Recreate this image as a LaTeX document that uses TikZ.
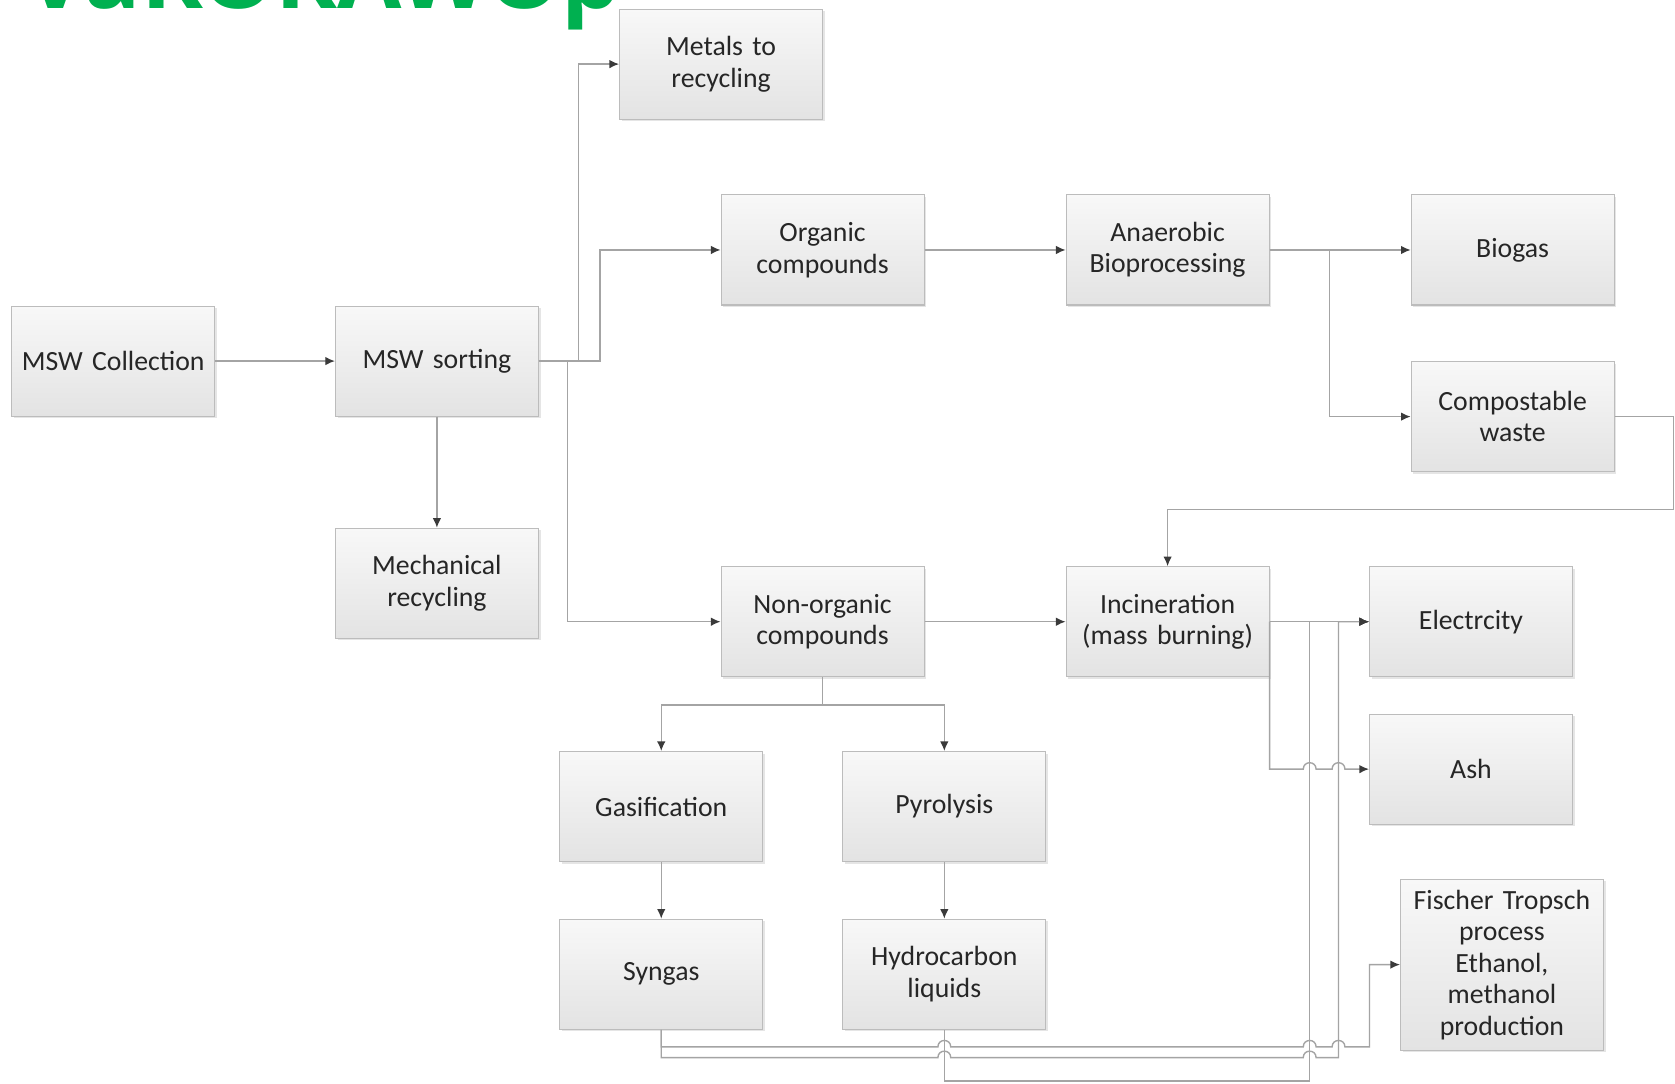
\documentclass[tikz,border=0pt]{standalone}
\usepackage{fontspec}
\setmainfont{Carlito}
\newfontfamily\wmfont{Open Sans}
\usetikzlibrary{arrows.meta,shadows,calc}
\definecolor{linec}{HTML}{A4A4A4}
\definecolor{arr}{HTML}{3A3A3A}
\definecolor{boxline}{HTML}{BCBCBC}
\definecolor{boxtop}{HTML}{F8F8F8}
\definecolor{boxbot}{HTML}{E3E3E3}
\definecolor{txt}{HTML}{262626}
\definecolor{wmgreen}{HTML}{00B050}
\begin{document}
\begin{tikzpicture}[x=1pt,y=-1pt,
  box/.style={draw=boxline, line width=1pt, top color=boxtop, bottom color=boxbot,
    minimum width=190pt, minimum height=103pt, text width=185pt, align=center,
    inner sep=0pt, font=\fontsize{26}{29.5}\selectfont, text=txt,
    drop shadow={shadow xshift=2pt, shadow yshift=-2pt, fill=black, opacity=0.10}},
  conn/.style={draw=linec, line width=1.3pt, -{Latex[length=9pt,width=8pt,color=arr]}},
]
\useasboundingbox (0,0) rectangle (1568,1014);
\clip (0,0) rectangle (1568,1014);
\fill[white] (0,0) rectangle (1568,1014);

\node[anchor=base west, inner sep=0pt, text=wmgreen, xscale=1.04,
  font=\wmfont\bfseries\fontsize{84}{84}\selectfont] (wm) at (24,7.5) {VaKOKAWOp};

\node[box] (coll) at (106,338) {MSW Collection};
\node[box] (sort) at (409,338) {MSW sorting};
\node[box] (mech) at (409,546) {Mechanical\\recycling};
\node[box] (metal) at (675,60) {Metals to\\recycling};
\node[box] (org) at (770,234) {Organic\\compounds};
\node[box] (anae) at (1093,234) {Anaerobic\\Bioprocessing};
\node[box] (bio) at (1416,234) {Biogas};
\node[box] (comp) at (1416,390) {Compostable\\waste};
\node[box] (nonorg) at (770,582) {Non-organic\\compounds};
\node[box] (inc) at (1093,582) {Incineration\\(mass burning)};
\node[box] (elec) at (1377,582) {Electrcity};
\node[box] (ash) at (1377,720) {Ash};
\node[box, minimum height=160pt] (ft) at (1406,903) {Fischer Tropsch\\process\\Ethanol,\\methanol\\production};
\node[box] (gas) at (619,755) {Gasification};
\node[box] (pyr) at (884,755) {Pyrolysis};
\node[box] (syn) at (619,912) {Syngas};
\node[box] (hyd) at (884,912) {Hydrocarbon\\liquids};

\draw[conn] (coll) -- (sort);
\draw[conn] (sort) -- (mech);
\draw[conn] (sort.east) -- ++(37,0) |- (metal.west);
\draw[conn] (sort.east) -- ++(57,0) |- (org.west);
\draw[conn] (sort.east) -- ++(27,0) |- (nonorg.west);
\draw[conn] (org) -- (anae);
\draw[conn] (anae) -- (bio);
\draw[conn] (anae.east) -- ++(56,0) |- (comp.west);
\draw[conn] (comp.east) -- ++(55,0) -- ++(0,87) -| (inc.north);
\draw[conn] (nonorg) -- (inc);
\draw[conn] (nonorg.south) -- ++(0,26) -| (gas.north);
\draw[conn] (nonorg.south) -- ++(0,26) -| (pyr.north);
\draw[conn] (gas) -- (syn);
\draw[conn] (pyr) -- (hyd);
\draw[conn] (inc) -- (elec);
% Incineration -> Ash (jumps over two buses)
\draw[conn] (inc.east) |- (1220,720)
  .. controls (1220,712) and (1232,712) .. (1232,720) -- (1247,720)
  .. controls (1247,712) and (1259,712) .. (1259,720) -- (ash.west);
% Hydrocarbon liquids -> Electricity
\draw[conn] (hyd.south) |- (1226,1012) |- (elec.west);
% Syngas -> Electricity
\draw[conn] (syn.south) |- (878,990)
  .. controls (878,982) and (890,982) .. (890,990) -- (1220,990)
  .. controls (1220,982) and (1232,982) .. (1232,990) -- (1253,990) |- (elec.west);
% Syngas -> Fischer Tropsch
\draw[conn] (syn.south) |- (878,980)
  .. controls (878,972) and (890,972) .. (890,980) -- (1220,980)
  .. controls (1220,972) and (1232,972) .. (1232,980) -- (1247,980)
  .. controls (1247,972) and (1259,972) .. (1259,980) -- (1282,980) |- (ft.west);
\end{tikzpicture}
\end{document}
